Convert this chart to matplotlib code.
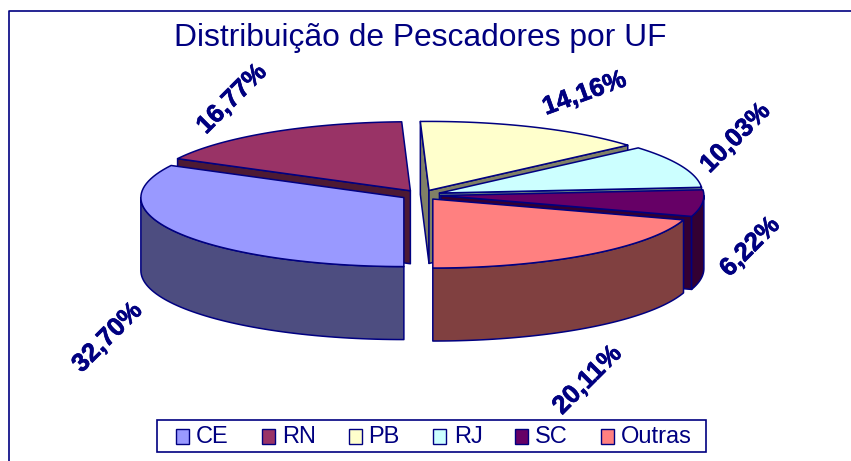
import numpy as np
import matplotlib
matplotlib.use("Agg")
import matplotlib.pyplot as plt
import matplotlib.patheffects as pe
from matplotlib.patches import Polygon, Rectangle
from matplotlib.lines import Line2D

categories = ["CE", "RN", "PB", "RJ", "SC", "Outras"]
values = [32.70, 16.77, 14.16, 10.03, 6.22, 20.11]
value_labels = ["32,70%", "16,77%", "14,16%", "10,03%", "6,22%", "20,11%"]
top_colors = ["#9999FF", "#993366", "#FFFFCC", "#CCFFFF", "#660066", "#FF8080"]
side_colors = ["#4D4D80", "#4D1A33", "#808066", "#668080", "#330033", "#804040"]
label_xy = [(107.5, 337.5), (232, 99), (584.5, 93.5), (735.5, 138), (750, 247), (587.5, 380)]
label_rot = [45, 45, 20, 45, 45, 45]

W, H = 851, 461
NAVY = "#000080"
fig = plt.figure(figsize=(W / 100, H / 100), dpi=100)
ax = fig.add_axes([0, 0, 1, 1])
ax.set_xlim(0, W)
ax.set_ylim(H, 0)
ax.axis("off")

cx, cy, rx, ry, depth = 421, 195, 263, 69, 73
ex, ey = 20, 5
start_angle = 180.0
deg = np.array(values) / sum(values) * 360
starts = start_angle + np.concatenate([[0], np.cumsum(deg)[:-1]])
ends = starts + deg


def rim(ax0, ay0, a0, a1, n=60):
    t = np.radians(np.linspace(a0, a1, n))
    return np.c_[ax0 + rx * np.sin(t), ay0 - ry * np.cos(t)]


def poly(pts, color, z):
    ax.add_patch(Polygon(pts, closed=True, fc=color, ec=NAVY, lw=1.1, joinstyle="round", zorder=z))


draw_order = [1, 2, 3, 4, 5, 0]
for z, i in enumerate(draw_order):
    mid = np.radians((starts[i] + ends[i]) / 2)
    ax0 = cx + ex * np.sin(mid)
    ay0 = cy - ey * np.cos(mid)
    arc = rim(ax0, ay0, starts[i], ends[i])
    base = z * 10
    apex = np.array([ax0, ay0])
    down = np.array([0, depth])
    # radial faces, only the ones turned towards the viewer
    if np.sin(np.radians(starts[i])) < -1e-6:
        poly([apex, arc[0], arc[0] + down, apex + down], side_colors[i], base + 1)
    if np.sin(np.radians(ends[i])) > 1e-6:
        poly([apex, arc[-1], arc[-1] + down, apex + down], side_colors[i], base + 1)
    # outer wall (front half only)
    s = starts[i] % 360
    lo, hi = max(s, 90), min(s + deg[i], 270)
    if hi > lo:
        wall = rim(ax0, ay0, lo, hi)
        poly(np.r_[wall, (wall + down)[::-1]], side_colors[i], base + 2)
    # top face
    poly(np.r_[[apex], arc], top_colors[i], base + 3)

for txt, (x, y), r in zip(value_labels, label_xy, label_rot):
    ax.text(x, y, txt, rotation=r, rotation_mode="anchor", ha="center", va="center",
            family="Liberation Sans", weight="bold", fontsize=18.5, color=NAVY, zorder=200,
            path_effects=[pe.withStroke(linewidth=0.5, foreground=NAVY)])

ax.text(420, 38, "Distribuição de Pescadores por UF", ha="center", va="center",
        family="Liberation Sans", fontsize=22.9, color=NAVY, zorder=200)

# frame
ax.add_line(Line2D([9, 9, W], [H, 11.5, 11.5], color=NAVY, lw=1.2, zorder=1000))

# legend
ax.add_patch(Rectangle((157, 420), 549, 32, fc="white", ec=NAVY, lw=1.2, zorder=300))
sw_x = [175.5, 261.5, 348.5, 432.5, 514.5, 601]
tx_x = [196, 282, 368, 454, 535, 621]
for c, col, sx, tx in zip(categories, top_colors, sw_x, tx_x):
    ax.add_patch(Rectangle((sx, 429), 13, 14.5, fc=col, ec=NAVY, lw=1, zorder=301))
    ax.text(tx, 436.5, c, ha="left", va="center", family="Liberation Sans", fontsize=17,
            color=NAVY, zorder=301)

fig.savefig("out.png", dpi=100)
